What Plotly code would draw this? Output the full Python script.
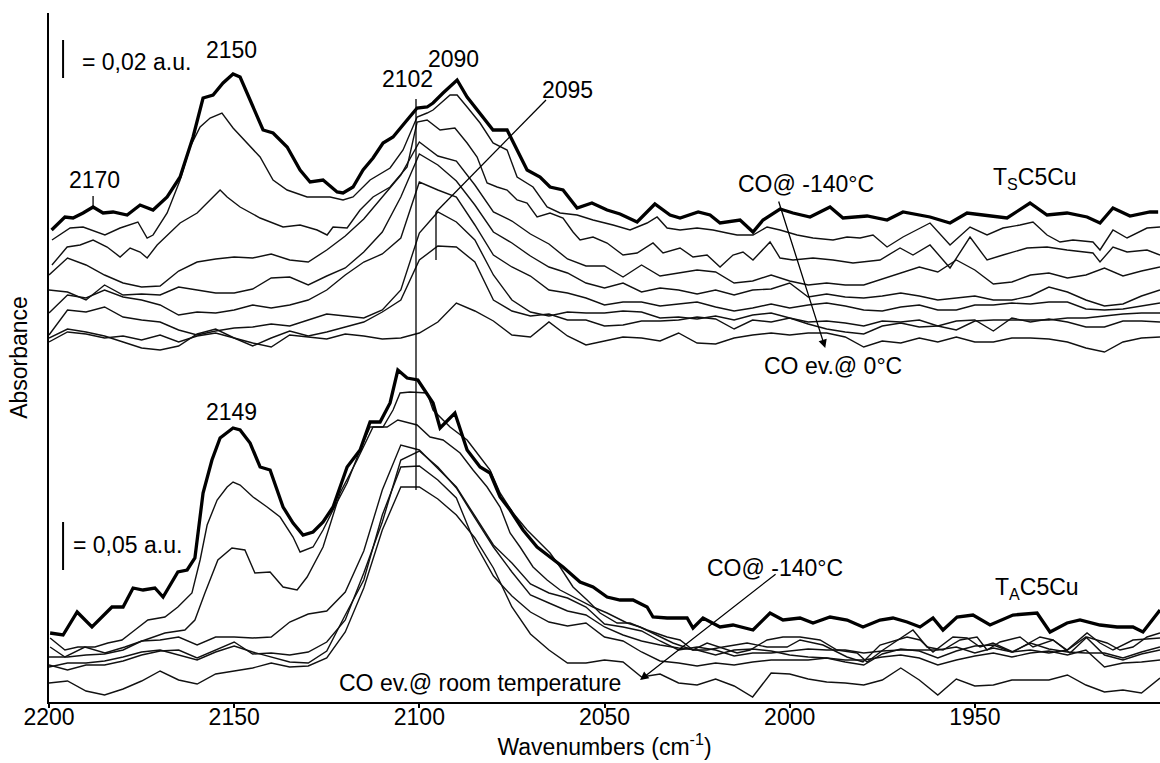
import plotly.graph_objects as go

# Wavenumber grid (cm-1), 5 cm-1 steps, used by the less detailed thin spectra
wavenumbers = list(range(2200, 1899, -5))

# ================= T_S C5Cu (upper group) =================
# CO @ -140 °C (thick), read point by point
ts_co_140_wn = [2199.3, 2195.7, 2193.5, 2190.8, 2188.1, 2185.4, 2182.7, 2178.9, 2175.4, 2171.9, 2168.1, 2164.6,
                2161.1, 2158.4, 2155.7, 2153.0, 2150.3, 2148.4, 2145.7, 2142.2, 2139.5, 2135.7, 2132.2, 2129.5,
                2126.0, 2122.2, 2120.6, 2117.9, 2115.2, 2112.5, 2109.8, 2107.1, 2103.3, 2100.6, 2097.9, 2096.3,
                2093.6, 2089.8, 2087.1, 2083.6, 2080.1, 2076.3, 2073.6, 2070.9, 2067.4, 2064.7, 2061.2, 2057.4,
                2053.4, 2049.3, 2045.8, 2041.2, 2036.4, 2032.3, 2029.6, 2024.7, 2021.5, 2018.8, 2013.4, 2009.9,
                2007.2, 2002.6, 1999.1, 1994.5, 1989.1, 1985.6, 1979.1, 1973.7, 1969.4, 1964.8, 1962.1, 1956.7,
                1952.1, 1947.8, 1941.3, 1935.1, 1930.5, 1925.1, 1919.7, 1916.2, 1912.7, 1908.1, 1902.7, 1900.5]
ts_co_140 = [472, 485, 484, 489, 495, 489, 490, 487, 497, 492, 505, 525,
             565, 604, 607, 619, 628, 625, 602, 572, 569, 555, 532, 520,
             522, 510, 509, 515, 532, 544, 559, 565, 582, 594, 595, 599,
             609, 622, 605, 589, 572, 572, 552, 532, 525, 515, 512, 494,
             499, 492, 488, 480, 498, 487, 484, 490, 487, 479, 482, 470,
             482, 493, 489, 485, 495, 484, 486, 482, 490, 487, 485, 479,
             489, 487, 484, 499, 487, 489, 485, 479, 494, 486, 490, 490]

ts_2_wn = [2199.2, 2194.3, 2190.8, 2184.9, 2180.8, 2176.0, 2173.5, 2171.9, 2168.1, 2164.6, 2161.9, 2159.2,
           2156.5, 2153.3, 2150.3, 2146.5, 2143.0, 2139.5, 2135.7, 2130.3, 2124.1, 2120.6, 2117.9, 2113.3,
           2107.9, 2104.4, 2100.6, 2097.9, 2096.3, 2091.7, 2089.8, 2087.1, 2083.6, 2080.1, 2076.3, 2073.6,
           2069.3, 2065.5, 2062.0, 2057.4, 2053.1, 2047.7, 2043.1, 2038.5, 2035.8, 2033.1, 2029.6, 2025.0,
           2020.7, 2016.9, 2014.2, 2009.9, 2006.1, 2002.6, 1998.0, 1993.7, 1988.3, 1984.5, 1981.0, 1977.5,
           1973.7, 1969.4, 1962.1, 1956.7, 1951.3, 1946.7, 1942.4, 1937.8, 1934.3, 1930.5, 1927.0, 1923.5,
           1918.1, 1916.2, 1912.7, 1908.9, 1903.5, 1900.0]
ts_2 = [462, 474, 475, 467, 474, 480, 464, 467, 489, 522, 555, 575,
        584, 589, 574, 559, 545, 522, 512, 505, 505, 502, 505, 522,
        534, 552, 585, 589, 592, 607, 607, 595, 579, 559, 552, 525,
        515, 495, 489, 487, 482, 477, 472, 479, 485, 474, 472, 474,
        472, 469, 467, 467, 475, 472, 467, 464, 462, 465, 464, 467,
        455, 465, 479, 457, 475, 467, 474, 477, 480, 467, 460, 462,
        460, 452, 472, 464, 474, 475]

ts_3_wn = [2199.2, 2195.1, 2191.6, 2188.1, 2184.3, 2180.8, 2178.1, 2175.4, 2173.5, 2170.8, 2164.6, 2160.0,
           2153.8, 2151.9, 2148.4, 2143.0, 2136.8, 2132.2, 2127.6, 2124.9, 2123.3, 2119.5, 2116.0, 2112.5,
           2107.9, 2103.3, 2100.6, 2097.9, 2094.4, 2090.4, 2087.1, 2084.4, 2081.7, 2079.0, 2076.3, 2073.6,
           2070.9, 2068.2, 2064.7, 2061.2, 2058.5, 2056.6, 2053.1, 2049.3, 2045.0, 2041.2, 2036.9, 2034.2,
           2029.6, 2026.1, 2022.3, 2018.8, 2015.3, 2012.6, 2009.9, 2005.3, 2002.6, 1999.1, 1993.7, 1988.3,
           1982.9, 1975.6, 1970.2, 1966.7, 1962.1, 1956.7, 1951.3, 1946.7, 1942.4, 1935.9, 1930.5, 1925.1,
           1918.1, 1916.2, 1912.7, 1908.9, 1903.5, 1900.0]
ts_3 = [437, 455, 457, 462, 455, 445, 454, 450, 444, 457, 479, 489,
        512, 505, 495, 484, 475, 477, 472, 467, 475, 474, 492, 505,
        515, 535, 580, 582, 572, 574, 559, 545, 519, 515, 512, 502,
        499, 485, 489, 484, 470, 462, 465, 459, 447, 449, 459, 449,
        454, 445, 447, 435, 447, 450, 442, 460, 444, 442, 444, 442,
        439, 442, 454, 447, 457, 434, 465, 442, 447, 454, 455, 452,
        449, 440, 455, 450, 452, 447]

ts_4 = [427, 444, 437, 427, 419, 415, 416, 431, 440, 443, 445, 444, 448, 442, 440, 452, 466, 483, 505, 527,
        560, 546, 541, 517, 490, 481, 468, 458, 443, 436, 436, 425, 437, 426, 429, 432, 430, 419, 421, 427,
        421, 417, 419, 417, 417, 423, 429, 435, 430, 442, 432, 418, 420, 427, 429, 424, 427, 434, 426, 431, 435]
ts_5 = [412, 410, 402, 417, 407, 408, 407, 415, 412, 409, 409, 413, 424, 425, 417, 426, 434, 450, 470, 505,
        548, 537, 521, 497, 470, 459, 446, 435, 429, 419, 414, 419, 410, 414, 412, 408, 412, 407, 412, 413,
        419, 405, 408, 405, 404, 406, 409, 406, 402, 404, 406, 402, 402, 406, 415, 410, 402, 396, 398, 406, 412]
ts_6 = [389, 407, 404, 412, 405, 402, 397, 387, 390, 389, 392, 397, 394, 397, 402, 412, 427, 440, 448, 464,
        520, 512, 505, 477, 447, 435, 426, 412, 409, 404, 397, 400, 400, 396, 398, 400, 395, 391, 394, 398,
        394, 397, 399, 396, 392, 391, 395, 397, 392, 392, 397, 397, 399, 398, 400, 400, 393, 392, 393, 396, 399]
ts_7 = [367, 392, 390, 395, 385, 382, 380, 372, 367, 371, 374, 375, 378, 376, 382, 388, 386, 384, 392, 412,
        469, 490, 480, 462, 427, 402, 390, 386, 390, 389, 389, 391, 390, 384, 385, 383, 386, 382, 387, 389,
        384, 380, 381, 379, 376, 381, 380, 382, 376, 372, 381, 382, 382, 382, 382, 384, 384, 386, 388, 389, 389]
ts_8 = [360, 370, 368, 364, 366, 362, 367, 360, 366, 369, 364, 356, 364, 371, 366, 370, 375, 380, 390, 402,
        442, 456, 455, 440, 402, 391, 386, 388, 382, 382, 376, 377, 381, 381, 382, 385, 383, 373, 382, 380,
        384, 378, 373, 370, 368, 376, 379, 375, 376, 381, 382, 371, 384, 380, 383, 380, 375, 375, 381, 381, 380]
ts_ev_0 = [364, 373, 370, 366, 360, 354, 352, 356, 368, 373, 364, 359, 355, 367, 365, 363, 368, 366, 363, 364,
           369, 380, 399, 391, 381, 367, 365, 380, 366, 357, 361, 365, 364, 361, 369, 359, 358, 364, 367, 369,
           367, 369, 369, 365, 355, 361, 359, 364, 360, 365, 360, 360, 364, 364, 363, 360, 354, 350, 360, 364, 365]

# ================= T_A C5Cu (lower group) =================
ta_co_140_wn = [2199.7, 2196.2, 2192.4, 2188.4, 2183.0, 2180.0, 2177.3, 2174.6, 2171.4, 2169.2, 2165.2, 2162.7,
                2160.6, 2158.4, 2156.0, 2153.8, 2150.3, 2148.4, 2145.7, 2143.0, 2140.3, 2136.8, 2134.1, 2131.4,
                2128.7, 2126.0, 2123.3, 2119.5, 2116.0, 2113.3, 2110.6, 2107.9, 2105.8, 2103.3, 2100.4, 2096.3,
                2094.4, 2090.4, 2087.1, 2083.6, 2080.9, 2078.2, 2075.5, 2072.0, 2068.2, 2064.7, 2061.2, 2056.6,
                2053.1, 2049.3, 2045.8, 2042.3, 2038.5, 2036.9, 2033.1, 2027.7, 2026.1, 2023.4, 2018.8, 2015.3,
                2009.9, 2005.3, 2001.8, 1997.2, 1993.7, 1989.1, 1984.5, 1980.2, 1975.6, 1972.1, 1968.3, 1964.8,
                1961.3, 1958.6, 1954.8, 1950.5, 1945.9, 1939.7, 1933.2, 1929.7, 1925.1, 1921.6, 1916.2, 1911.6,
                1907.3, 1904.6, 1900.0]
ta_co_140 = [69, 67, 90, 75, 95, 95, 114, 112, 114, 105, 130, 132,
             144, 209, 242, 264, 274, 272, 259, 235, 232, 195, 179, 167,
             170, 180, 195, 235, 252, 280, 280, 299, 332, 324, 322, 299,
             274, 289, 252, 235, 229, 205, 192, 172, 155, 145, 135, 120,
             115, 105, 102, 102, 95, 85, 84, 84, 74, 84, 75, 77,
             72, 89, 82, 84, 79, 85, 82, 75, 82, 84, 80, 75,
             84, 72, 85, 87, 77, 87, 89, 70, 79, 82, 77, 75,
             75, 70, 92]

ta_2_wn = [2199.7, 2195.7, 2192.2, 2187.6, 2184.1, 2180.3, 2176.8, 2173.3, 2168.7, 2165.2, 2161.4, 2159.2,
           2157.3, 2154.6, 2151.9, 2150.3, 2148.4, 2144.9, 2141.1, 2137.6, 2134.1, 2132.2, 2128.7, 2126.0,
           2123.3, 2119.5, 2116.0, 2113.3, 2109.8, 2107.1, 2105.2, 2102.5, 2097.9, 2096.3, 2091.7, 2087.1,
           2083.6, 2080.9, 2078.2, 2074.7, 2070.9, 2067.4, 2064.7, 2062.0, 2058.5, 2054.7, 2051.2, 2046.6,
           2043.1, 2038.5, 2033.1, 2029.6, 2026.1, 2022.3, 2018.8, 2014.2, 2010.7, 2006.1, 2001.8, 1997.2,
           1991.8, 1987.2, 1981.8, 1979.1, 1974.8, 1969.4, 1966.7, 1962.9, 1958.6, 1954.0, 1949.4, 1946.7,
           1943.2, 1937.8, 1934.3, 1928.9, 1924.3, 1919.7, 1914.3, 1910.8, 1907.3, 1903.5, 1900.0]
ta_2 = [64, 52, 55, 55, 59, 62, 72, 82, 85, 95, 109, 142,
        177, 202, 215, 220, 217, 205, 195, 185, 165, 150, 155, 172,
        192, 219, 252, 275, 275, 292, 309, 310, 309, 292, 275, 262,
        245, 232, 209, 189, 172, 159, 149, 135, 115, 102, 89, 79,
        79, 72, 65, 62, 52, 59, 55, 49, 52, 62, 65, 65,
        62, 52, 49, 40, 52, 65, 72, 55, 52, 62, 65, 52,
        60, 65, 55, 62, 49, 65, 59, 52, 55, 65, 69]

ta_3_wn = [2199.7, 2195.7, 2190.3, 2184.9, 2179.5, 2174.1, 2168.7, 2163.3, 2160.6, 2157.9, 2154.4, 2150.6,
           2147.1, 2144.4, 2140.3, 2136.8, 2133.0, 2130.3, 2126.0, 2121.4, 2116.8, 2112.5, 2108.7, 2105.8,
           2100.6, 2097.1, 2093.6, 2089.0, 2085.5, 2081.7, 2078.2, 2075.5, 2072.8, 2069.3, 2065.5, 2062.0,
           2056.6, 2053.1, 2049.3, 2043.9, 2040.4, 2036.9, 2031.5, 2026.1, 2022.3, 2018.0, 2011.5, 2006.1,
           2000.7, 1997.2, 1991.0, 1984.5, 1980.2, 1975.6, 1968.3, 1964.8, 1961.3, 1955.9, 1952.1, 1948.6,
           1945.1, 1939.7, 1932.4, 1928.9, 1925.1, 1919.7, 1916.2, 1912.7, 1907.3, 1900.0]
ta_3 = [55, 45, 55, 49, 55, 62, 69, 72, 82, 109, 142, 154,
        152, 129, 130, 115, 112, 125, 155, 209, 242, 275, 275, 282,
        277, 265, 262, 249, 232, 215, 195, 169, 155, 135, 122, 112,
        102, 95, 89, 79, 75, 69, 59, 52, 52, 55, 59, 55,
        55, 62, 57, 45, 40, 57, 65, 62, 50, 65, 64, 55,
        59, 50, 65, 62, 52, 69, 59, 52, 62, 64]

ta_4 = [45, 45, 47, 48, 52, 61, 62, 65, 57, 65, 65, 64, 65, 80, 88, 91, 110, 151, 212, 257,
        252, 233, 215, 186, 157, 139, 118, 109, 104, 95, 78, 75, 71, 61, 52, 55, 52, 46, 49, 49,
        51, 53, 52, 52, 49, 51, 52, 52, 52, 55, 49, 54, 50, 59, 53, 50, 49, 49, 44, 50, 55]
ta_5 = [37, 32, 37, 37, 41, 47, 51, 52, 44, 52, 60, 48, 49, 47, 50, 60, 82, 129, 180, 242,
        251, 235, 214, 184, 155, 130, 107, 99, 91, 87, 75, 67, 61, 57, 54, 52, 47, 52, 53, 51,
        47, 45, 44, 40, 37, 48, 53, 51, 44, 51, 56, 57, 50, 52, 49, 52, 65, 47, 42, 48, 52]
ta_6 = [35, 39, 39, 41, 45, 50, 52, 47, 42, 50, 56, 50, 45, 40, 39, 51, 87, 122, 187, 235,
        236, 222, 204, 159, 126, 106, 90, 80, 76, 79, 65, 61, 50, 41, 39, 36, 39, 37, 40, 42,
        42, 42, 44, 42, 42, 45, 47, 44, 37, 42, 46, 49, 45, 49, 51, 47, 52, 35, 39, 40, 42]
ta_ev_rt = [19, 21, 11, 7, 13, 21, 31, 22, 18, 28, 31, 34, 39, 35, 36, 44, 70, 114, 172, 215,
            215, 203, 187, 164, 134, 95, 68, 52, 39, 39, 42, 40, 25, 28, 19, 17, 23, 16, 5, 29,
            28, 23, 20, 19, 17, 22, 34, 22, 7, 23, 16, 17, 22, 22, 22, 27, 17, 10, 12, 9, 24]

x_ticks = [2200, 2150, 2100, 2050, 2000, 1950]

thin = [(ts_2_wn, ts_2), (ts_3_wn, ts_3), (wavenumbers, ts_4), (wavenumbers, ts_5),
        (wavenumbers, ts_6), (wavenumbers, ts_7), (wavenumbers, ts_8), (wavenumbers, ts_ev_0),
        (ta_2_wn, ta_2), (ta_3_wn, ta_3), (wavenumbers, ta_4), (wavenumbers, ta_5),
        (wavenumbers, ta_6), (wavenumbers, ta_ev_rt)]
thick = [(ts_co_140_wn, ts_co_140), (ta_co_140_wn, ta_co_140)]

fig = go.Figure()
for xs, ys in thin:
    fig.add_trace(go.Scatter(x=xs, y=ys, mode="lines",
                             line=dict(color="#111111", width=1.4),
                             showlegend=False, hoverinfo="skip"))
for xs, ys in thick:
    fig.add_trace(go.Scatter(x=xs, y=ys, mode="lines",
                             line=dict(color="black", width=3.3),
                             showlegend=False, hoverinfo="skip"))

FONT = "Liberation Sans, Arial, sans-serif"
FS = 23

def txt(x, y, t, xanchor="center"):
    fig.add_annotation(x=x, y=y, xref="x", yref="y", text=t, showarrow=False,
                       xanchor=xanchor, yanchor="middle",
                       font=dict(family=FONT, size=FS, color="black"))

def seg(x0, y0, x1, y1, w=1.3):
    fig.add_shape(type="line", xref="x", yref="y", x0=x0, y0=y0, x1=x1, y1=y1,
                  line=dict(color="black", width=w))

# scale bars
seg(2196.2, 624, 2196.2, 662, 2)
txt(2191.6, 640, "= 0,02 a.u.", "left")
seg(2196.2, 132, 2196.2, 180, 2)
txt(2194.0, 157, "= 0,05 a.u.", "left")

# peak labels, upper group
txt(2150.6, 652, "2150")
txt(2187.6, 522, "2170")
seg(2188.1, 495, 2188.1, 506, 1.3)
txt(2103.3, 623, "2102")
seg(2100.9, 212, 2100.9, 603, 1.3)
txt(2090.9, 643, "2090")
txt(2060.1, 612, "2095")
seg(2065.8, 602, 2095.5, 490, 1.3)
seg(2095.5, 490, 2095.5, 442, 1.3)

txt(1995.6, 518, "CO@ -140°C")
fig.add_annotation(x=1990.4, y=354, ax=2003.1, ay=502, xref="x", yref="y",
                   axref="x", ayref="y", text="", showarrow=True,
                   arrowhead=2, arrowsize=1.3, arrowwidth=1.3, arrowcolor="black")
txt(1988.3, 336, "CO ev.@ 0°C")
txt(1933.7, 524, "T<sub>S</sub>C5Cu")

# labels, lower group
txt(2150.6, 290, "2149")
txt(2003.9, 134, "CO@ -140°C")
fig.add_annotation(x=2040.4, y=22, ax=2003.4, ay=129, xref="x", yref="y",
                   axref="x", ayref="y", text="", showarrow=True,
                   arrowhead=2, arrowsize=1.3, arrowwidth=1.3, arrowcolor="black")
txt(2083.6, 19, "CO ev.@ room temperature")
txt(1933.2, 114, "T<sub>A</sub>C5Cu")

fig.update_layout(
    width=1160, height=763,
    margin=dict(l=49, r=0, t=13, b=61),
    plot_bgcolor="white", paper_bgcolor="white",
    font=dict(family=FONT, size=FS, color="black"),
    showlegend=False,
    xaxis=dict(range=[2200, 1900], tickvals=x_ticks, ticktext=[str(v) for v in x_ticks],
               ticks="outside", ticklen=4, tickwidth=1.5, tickcolor="black",
               ticklabelstandoff=-11,
               showline=True, linecolor="black", linewidth=2,
               showgrid=False, zeroline=False, automargin=False,
               tickfont=dict(family=FONT, size=FS, color="black"),
               title=dict(text="Wavenumbers (cm<sup>-1</sup>)", standoff=10,
                          font=dict(family=FONT, size=FS, color="black"))),
    yaxis=dict(range=[0, 689], showticklabels=False, ticks="",
               showline=True, linecolor="black", linewidth=2,
               showgrid=False, zeroline=False, automargin=False,
               title=dict(text="Absorbance", standoff=13,
                          font=dict(family=FONT, size=FS, color="black"))),
)

fig.write_html("out.html", config={"displayModeBar": False},
               post_script="document.body.style.margin='0px';")
